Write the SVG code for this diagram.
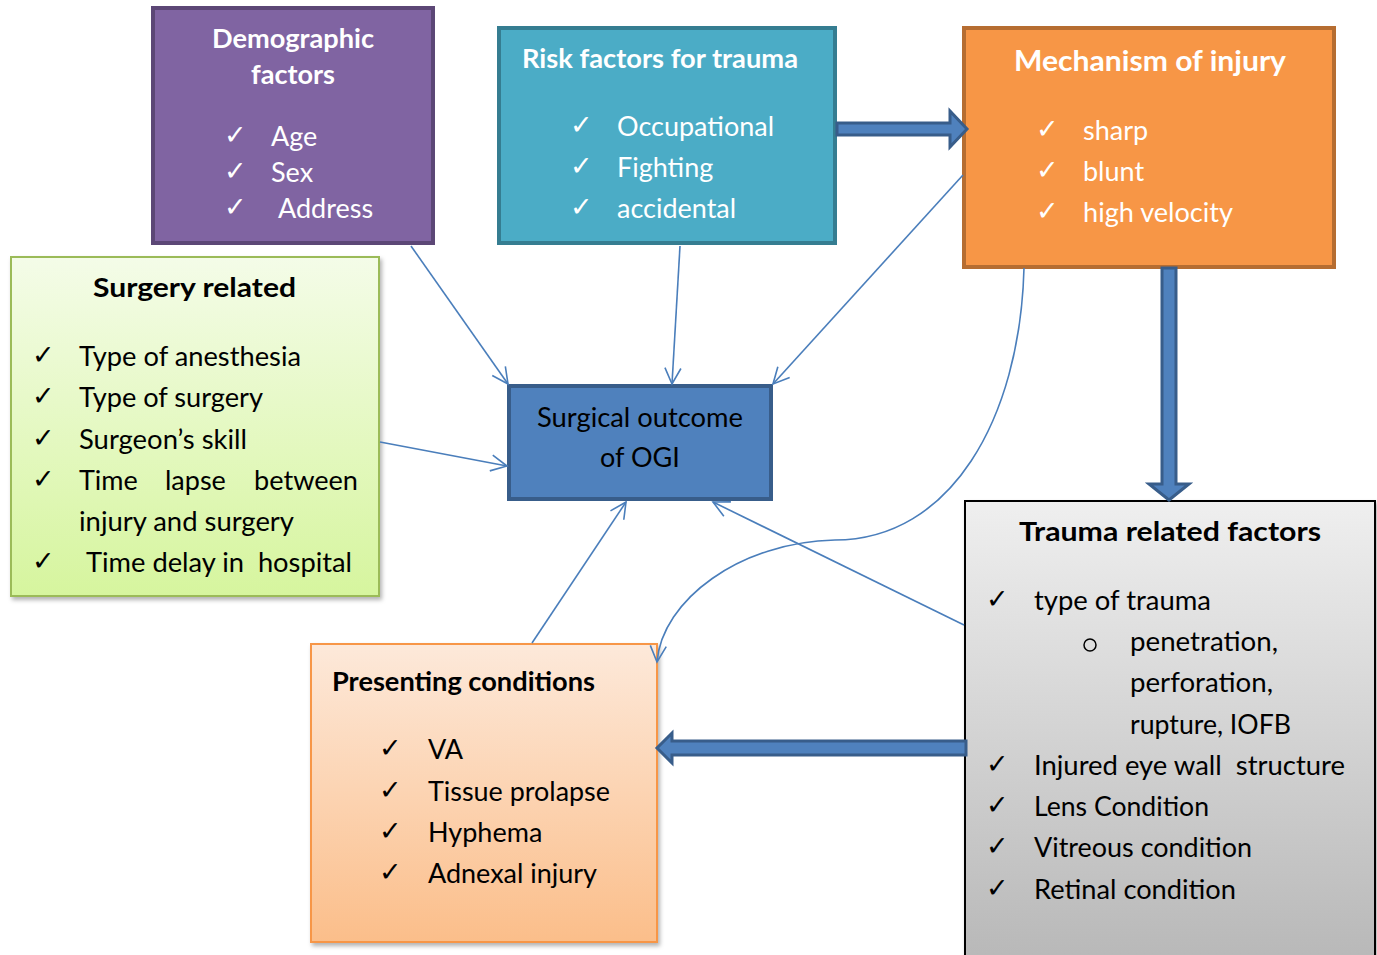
<svg xmlns="http://www.w3.org/2000/svg" width="1377" height="955" viewBox="0 0 1377 955">
<defs>
<linearGradient id="gGreen" x1="0" y1="0" x2="0" y2="1"><stop offset="0" stop-color="#F4FCE8"/><stop offset="1" stop-color="#D6F59E"/></linearGradient>
<linearGradient id="gGray" x1="0" y1="0" x2="0" y2="1"><stop offset="0" stop-color="#EFEFEF"/><stop offset="1" stop-color="#B8B8B8"/></linearGradient>
<linearGradient id="gPeach" x1="0" y1="0" x2="0" y2="1"><stop offset="0" stop-color="#FDE9DA"/><stop offset="1" stop-color="#FBBE8A"/></linearGradient>
<filter id="sh" x="-5%" y="-5%" width="115%" height="115%"><feDropShadow dx="2" dy="3" stdDeviation="2" flood-color="#000" flood-opacity="0.3"/></filter>
<marker id="ar" viewBox="0 0 20 20" refX="18" refY="10" markerWidth="20" markerHeight="20" markerUnits="userSpaceOnUse" orient="auto"><path d="M2,2 L18,10 L2,18" fill="none" stroke="#4A7EBB" stroke-width="1.6"/></marker>
<style>
text{font-family:Lato,"Open Sans","Liberation Sans",sans-serif;font-size:27px;white-space:pre}
.w{fill:#fff}
.k{fill:#000}
.b{font-weight:bold}
.ck{font-family:"DejaVu Sans",sans-serif;font-size:27px}
.cn{stroke:#4A7EBB;stroke-width:1.6;fill:none;marker-end:url(#ar)}
.ba{fill:#4F81BD;stroke:#385D8A;stroke-width:3;stroke-linejoin:miter}
</style>
</defs>

<g id="demographic">
<rect x="153" y="8" width="280" height="235" fill="#8064A2" stroke="#5C4776" stroke-width="4"/>
<text class="w b" x="212" y="48" textLength="162" lengthAdjust="spacingAndGlyphs">Demographic</text>
<text class="w b" x="251" y="84" textLength="84" lengthAdjust="spacingAndGlyphs">factors</text>
<text class="w ck" x="224" y="144">✓</text><text class="w" x="271" y="146">Age</text>
<text class="w ck" x="224" y="180">✓</text><text class="w" x="271" y="182">Sex</text>
<text class="w ck" x="224" y="216">✓</text><text class="w" x="278" y="218">Address</text>
</g>

<g id="risk">
<rect x="499" y="28" width="336" height="215" fill="#4BACC6" stroke="#357D91" stroke-width="4"/>
<text class="w b" x="522" y="68" textLength="276" lengthAdjust="spacingAndGlyphs">Risk factors for trauma</text>
<text class="w ck" x="570" y="134">✓</text><text class="w" x="617" y="136" textLength="157" lengthAdjust="spacingAndGlyphs">Occupational</text>
<text class="w ck" x="570" y="175">✓</text><text class="w" x="617" y="177">Fighting</text>
<text class="w ck" x="570" y="216">✓</text><text class="w" x="617" y="218">accidental</text>
</g>

<g id="mechanism">
<rect x="964" y="28" width="370" height="239" fill="#F79646" stroke="#B66D31" stroke-width="4"/>
<text class="w b" x="1014" y="71" style="font-size:29px" textLength="272" lengthAdjust="spacingAndGlyphs">Mechanism of injury</text>
<text class="w ck" x="1036" y="138">✓</text><text class="w" x="1083" y="140">sharp</text>
<text class="w ck" x="1036" y="179">✓</text><text class="w" x="1083" y="181">blunt</text>
<text class="w ck" x="1036" y="220">✓</text><text class="w" x="1083" y="222" textLength="150" lengthAdjust="spacingAndGlyphs">high velocity</text>
</g>

<g id="surgery">
<rect x="11" y="257" width="368" height="339" fill="url(#gGreen)" stroke="#9BBB59" stroke-width="2" filter="url(#sh)"/>
<text class="k b" x="93" y="297" textLength="203" lengthAdjust="spacingAndGlyphs">Surgery related</text>
<text class="k ck" x="32" y="364">✓</text><text class="k" x="79" y="366" textLength="222" lengthAdjust="spacingAndGlyphs">Type of anesthesia</text>
<text class="k ck" x="32" y="405">✓</text><text class="k" x="79" y="407" textLength="184" lengthAdjust="spacingAndGlyphs">Type of surgery</text>
<text class="k ck" x="32" y="447">✓</text><text class="k" x="79" y="449" textLength="168" lengthAdjust="spacingAndGlyphs">Surgeon’s skill</text>
<text class="k ck" x="32" y="488">✓</text><text class="k" x="79" y="490">Time</text><text class="k" x="165" y="490">lapse</text><text class="k" x="254" y="490" textLength="104" lengthAdjust="spacingAndGlyphs">between</text>
<text class="k" x="79" y="531" textLength="215" lengthAdjust="spacingAndGlyphs">injury and surgery</text>
<text class="k ck" x="32" y="570">✓</text><text class="k" x="86" y="572" textLength="266" lengthAdjust="spacingAndGlyphs">Time delay in  hospital</text>
</g>

<g id="outcome">
<rect x="509" y="386" width="262" height="113" fill="#4F81BD" stroke="#385D8A" stroke-width="4"/>
<text class="k" x="537" y="427" textLength="206" lengthAdjust="spacingAndGlyphs">Surgical outcome</text>
<text class="k" x="640" y="467" text-anchor="middle">of OGI</text>
</g>

<g id="trauma">
<rect x="965" y="501" width="410" height="460" fill="url(#gGray)" stroke="#000" stroke-width="2" filter="url(#sh)"/>
<text class="k b" x="1019" y="541" textLength="302" lengthAdjust="spacingAndGlyphs">Trauma related factors</text>
<text class="k ck" x="986" y="608">✓</text><text class="k" x="1034" y="610" textLength="177" lengthAdjust="spacingAndGlyphs">type of trauma</text>
<circle cx="1090" cy="645" r="6" fill="none" stroke="#000" stroke-width="1.5"/>
<text class="k" x="1130" y="651" textLength="148" lengthAdjust="spacingAndGlyphs">penetration,</text>
<text class="k" x="1130" y="692" textLength="143" lengthAdjust="spacingAndGlyphs">perforation,</text>
<text class="k" x="1130" y="734" textLength="161" lengthAdjust="spacingAndGlyphs">rupture, IOFB</text>
<text class="k ck" x="986" y="773">✓</text><text class="k" x="1034" y="775" textLength="311" lengthAdjust="spacingAndGlyphs">Injured eye wall  structure</text>
<text class="k ck" x="986" y="814">✓</text><text class="k" x="1034" y="816" textLength="175" lengthAdjust="spacingAndGlyphs">Lens Condition</text>
<text class="k ck" x="986" y="855">✓</text><text class="k" x="1034" y="857" textLength="218" lengthAdjust="spacingAndGlyphs">Vitreous condition</text>
<text class="k ck" x="986" y="897">✓</text><text class="k" x="1034" y="899" textLength="202" lengthAdjust="spacingAndGlyphs">Retinal condition</text>
</g>

<g id="presenting">
<rect x="311" y="644" width="346" height="298" fill="url(#gPeach)" stroke="#F79646" stroke-width="2" filter="url(#sh)"/>
<text class="k b" x="332" y="691" textLength="263" lengthAdjust="spacingAndGlyphs">Presenting conditions</text>
<text class="k ck" x="379" y="757">✓</text><text class="k" x="428" y="759">VA</text>
<text class="k ck" x="379" y="799">✓</text><text class="k" x="428" y="801" textLength="182" lengthAdjust="spacingAndGlyphs">Tissue prolapse</text>
<text class="k ck" x="379" y="840">✓</text><text class="k" x="428" y="842">Hyphema</text>
<text class="k ck" x="379" y="881">✓</text><text class="k" x="428" y="883" textLength="169" lengthAdjust="spacingAndGlyphs">Adnexal injury</text>
</g>

<g id="connectors">
<line class="cn" x1="411" y1="246" x2="508" y2="384"/>
<line class="cn" x1="680" y1="246" x2="672" y2="384"/>
<line class="cn" x1="963" y1="175" x2="773" y2="384"/>
<line class="cn" x1="380" y1="442" x2="507" y2="466"/>
<line class="cn" x1="532" y1="643" x2="626" y2="502"/>
<line class="cn" x1="964" y1="625" x2="713" y2="502"/>
<path class="cn" d="M1024,268 C1020,420 950,540 835,540 C740,542 662,600 657,662"/>
<path class="ba" d="M837,123 L950,123 L950,111 L967,129 L950,147 L950,135 L837,135 Z"/>
<path class="ba" d="M1162,268 L1176,268 L1176,484 L1189,484 L1169,500 L1149,484 L1162,484 Z"/>
<path class="ba" d="M966,741 L672,741 L672,733 L657,748 L672,763 L672,755 L966,755 Z"/>
</g>
</svg>
